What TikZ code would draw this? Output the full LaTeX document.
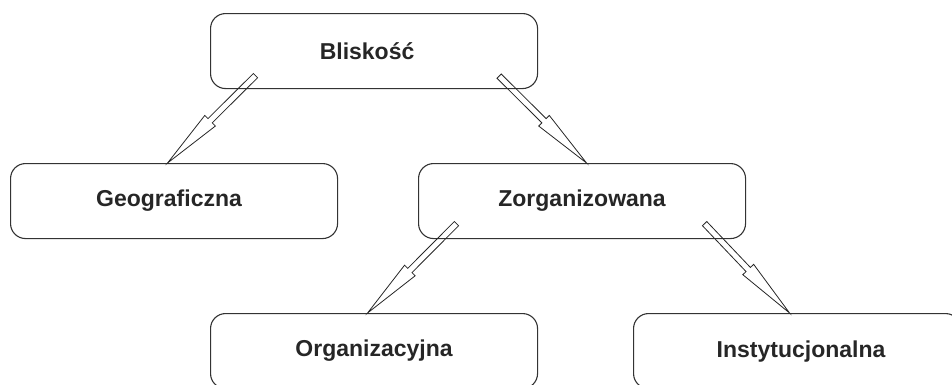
\documentclass[tikz,border=0pt]{standalone}
\usepackage{fontspec}
\setmainfont{Liberation Sans}
\usetikzlibrary{calc}

% Hollow block arrow from #1 (tail) to #2 (tip)
\newcommand\hollowarrow[2]{%
  \draw[blockarrow] let \p1=#1, \p2=#2,
      \n1={atan2(\y2-\y1,\x2-\x1)},
      \p3=($(\p2)+({\n1+180}:60pt)$) in
    ($(\p1)+({\n1+90}:3pt)$) -- ($(\p3)+({\n1+90}:3pt)$)
    -- ($(\p3)+({\n1+90}:7.5pt)$) -- (\p2)
    -- ($(\p3)+({\n1-90}:7.5pt)$) -- ($(\p3)+({\n1-90}:3pt)$)
    -- ($(\p1)+({\n1-90}:3pt)$) -- cycle;}

\begin{document}
\begin{tikzpicture}[x=1pt,y=-1pt,
  box/.style={draw=black!80, line width=1.1pt, rounded corners=15pt,
    minimum width=327pt, minimum height=75pt, inner sep=0pt,
    anchor=north west, text=black!85,
    font=\fontsize{23}{27}\selectfont\bfseries},
  blockarrow/.style={draw=black!85, line width=0.8pt, line join=miter}]
\useasboundingbox (0,0) rectangle (952,384);
\clip (0,0) rectangle (952,384);

\node[box] (top)  at (210,13)  {\hspace*{-14pt}Bliskość};
\node[box] (geo)  at (10,163)  {\hspace*{-10pt}Geograficzna};
\node[box] (zorg) at (418,163) {Zorganizowana};
\node[box] (org)  at (210,313) {Organizacyjna};
\node[box] (inst) at (633,313) {Instytucjonalna\hspace*{-8pt}};

\hollowarrow{($(top.south west)+(45.5,-13.5)$)}{($(geo.north)+(-6.5,0)$)}
\hollowarrow{($(top.south east)+(-39,-13)$)}{($(zorg.north)+(4.5,0)$)}
\hollowarrow{($(zorg.south west)+(38.5,-15.5)$)}{($(org.north)+(-6.5,0)$)}
\hollowarrow{($(zorg.south east)+(-41.5,-15.5)$)}{($(inst.north)+(-7.5,0)$)}
\end{tikzpicture}
\end{document}
